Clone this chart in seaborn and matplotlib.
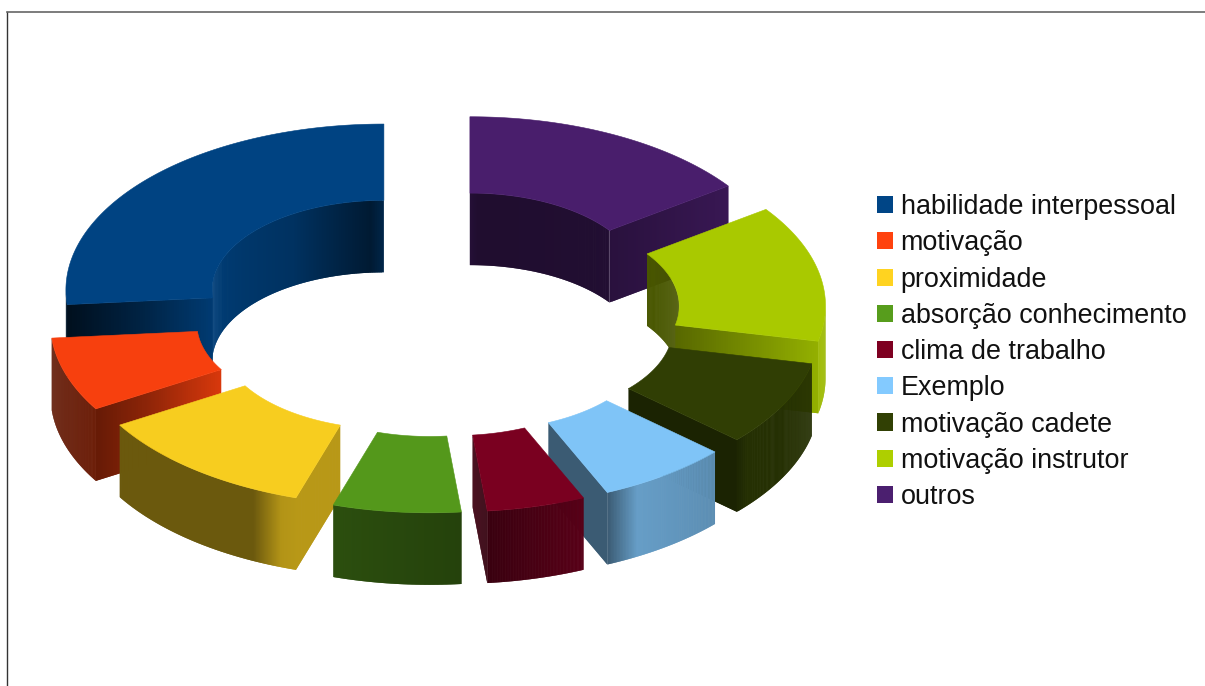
import numpy as np
import matplotlib
matplotlib.use("Agg")
import matplotlib.pyplot as plt
from matplotlib.collections import PolyCollection
from matplotlib.patches import Patch
import seaborn as sns

# Share of answers per category, in percent
categories = ["habilidade interpessoal", "motivação", "proximidade",
              "absorção conhecimento", "clima de trabalho", "Exemplo",
              "motivação cadete", "motivação instrutor", "outros"]
shares = [26.4, 7.2, 11.5, 6.5, 5.0, 6.7, 8.3, 13.3, 15.1]
colors = ["#004586", "#ff420e", "#ffd320", "#579d1c", "#7e0021",
          "#83caff", "#314004", "#aecf00", "#4b1f6f"]

# Brightness ramps for the side faces of each slice: (position, factor)
inner_ramps = [[(0, .55), (.05, .38), (.35, .72), (1, .92)], [(0, .5), (1, .5)], [(0, .5), (1, .5)],
               [(0, .5), (1, .5)], [(0, .5), (1, .5)], [(0, .5), (1, .5)],
               [(0, .5), (1, .5)], [(0, .42), (1, .42)], [(0, .45), (.95, .42), (1, .5)]]
outer_ramps = [[(0, .3), (1, .3)], [(0, .38), (1, .42)], [(0, .42), (.8, .42), (.93, .7), (1, .72)],
               [(0, .5), (1, .42)], [(0, .45), (1, .7)], [(0, .45), (.25, .78), (1, .7)],
               [(0, .6), (.1, .75), (1, .75)], [(0, .9), (1, .9)], [(0, .5), (1, .5)]]
cut_ramps = [[(0, .85), (.5, .5), (1, .22)], [(0, .85), (.6, .55), (1, .4)], [(0, .72), (1, .72)],
             [(0, .5), (1, .5)], [(0, .5), (1, .4)], [(0, .45), (1, .45)],
             [(0, .55), (1, .55)], [(0, .5), (1, .85)], [(0, .55), (1, .75)]]

# Projection of the ring onto the page, in pixels
CX, CY = 437, 313
RX, RY = 318, 166
HOLE = 0.54
DEPTH = 72
EXPLODE_X, EXPLODE_Y = 72, 34
START = 90.0

W, H = 1205, 686
LEFT, TOP = 7, 12

sns.set_theme(style="white")
plt.rcParams["font.family"] = ["Liberation Sans", "DejaVu Sans"]
palette = sns.color_palette(colors)

fig = plt.figure(figsize=(W / 100, H / 100), dpi=100, facecolor="white")
ax = fig.add_axes([LEFT / W, 0, 1 - LEFT / W, 1 - TOP / H])
ax.set_xlim(LEFT, W)
ax.set_ylim(H, TOP)
ax.set_xticks([])
ax.set_yticks([])
for side in ("right", "bottom"):
    ax.spines[side].set_visible(False)
ax.spines["left"].set(color="#333333", linewidth=1.0)
ax.spines["top"].set(color="#666666", linewidth=1.2)


def shaded(base, ramp, t):
    pos, fac = zip(*ramp)
    return tuple(np.clip(np.array(base) * np.interp(t, pos, fac), 0, 1))


def add_strips(x, y, fills, z):
    """Shaded band hanging below the polyline x, y. Every strip also covers
    the next one, so that the later strip hides the shared antialiased edge."""
    n = len(x) - 1
    quads = []
    for i in range(n):
        j = min(i + 2, n)
        quads.append(list(zip(x[i:j + 1], y[i:j + 1])) +
                     list(zip(x[i:j + 1][::-1], (y[i:j + 1] + DEPTH)[::-1])))
    ax.add_collection(PolyCollection(quads, facecolors=fills, edgecolors="none",
                                     linewidths=0, zorder=z))


def wall(center, radius, thetas, base, ramp, z):
    """Curved side of a slice."""
    if len(thetas) < 2:
        return
    rad = np.radians(thetas)
    x = center[0] + radius * RX * np.cos(rad)
    y = center[1] - radius * RY * np.sin(rad)
    n = len(x) - 1
    add_strips(x, y, [shaded(base, ramp, (i + .5) / n) for i in range(n)], z)


def cut_face(center, theta, base, ramp, z):
    """Flat radial side of a slice, running from the hole to the rim."""
    c, s = np.cos(np.radians(theta)), np.sin(np.radians(theta))
    radii = np.linspace(HOLE, 1, 61)
    x = center[0] + radii * RX * c
    y = center[1] - radii * RY * s
    add_strips(x, y, [shaded(base, ramp, (i + .5) / 60) for i in range(60)], z)


fractions = np.array(shares) / sum(shares)
edges = START + 360 * np.concatenate([[0], np.cumsum(fractions)])
mids = (edges[:-1] + edges[1:]) / 2

# Paint from the back of the ring to the front
order = np.argsort(-np.sin(np.radians(mids)))
for rank, i in enumerate(order):
    t1, t2, mid = edges[i], edges[i + 1], np.radians(mids[i])
    base = palette[i]
    center = (CX + EXPLODE_X * np.cos(mid), CY - EXPLODE_Y * np.sin(mid))
    z = 10 + rank * 10
    grid = np.linspace(t1, t2, 161)
    sines = np.sin(np.radians(grid))

    wall(center, HOLE, grid[sines >= 0], base, inner_ramps[i], z)
    if np.cos(np.radians(t1)) > 0.01:
        cut_face(center, t1, base, cut_ramps[i], z + 1)
    if np.cos(np.radians(t2)) < -0.01:
        cut_face(center, t2, base, cut_ramps[i], z + 1)
    wall(center, 1.0, grid[sines <= 0], base, outer_ramps[i], z + 2)

    rad = np.radians(grid)
    top_x = np.r_[center[0] + RX * np.cos(rad), center[0] + HOLE * RX * np.cos(rad[::-1])]
    top_y = np.r_[center[1] - RY * np.sin(rad), center[1] - HOLE * RY * np.sin(rad[::-1])]
    ax.fill(top_x, top_y, color=tuple(np.array(base) * .97), linewidth=0.4, zorder=z + 3)

handles = [Patch(facecolor=c, edgecolor="none", label=n) for c, n in zip(palette, categories)]
ax.legend(handles=handles, loc="upper left", bbox_to_anchor=(869, 186),
          bbox_transform=ax.transData, frameon=False, fontsize=19.4,
          handlelength=0.6, handleheight=0.6, handletextpad=0.27,
          labelspacing=0.38, borderpad=0.3, borderaxespad=0, labelcolor="#111111")

fig.savefig("out.png", dpi=100, facecolor="white")
